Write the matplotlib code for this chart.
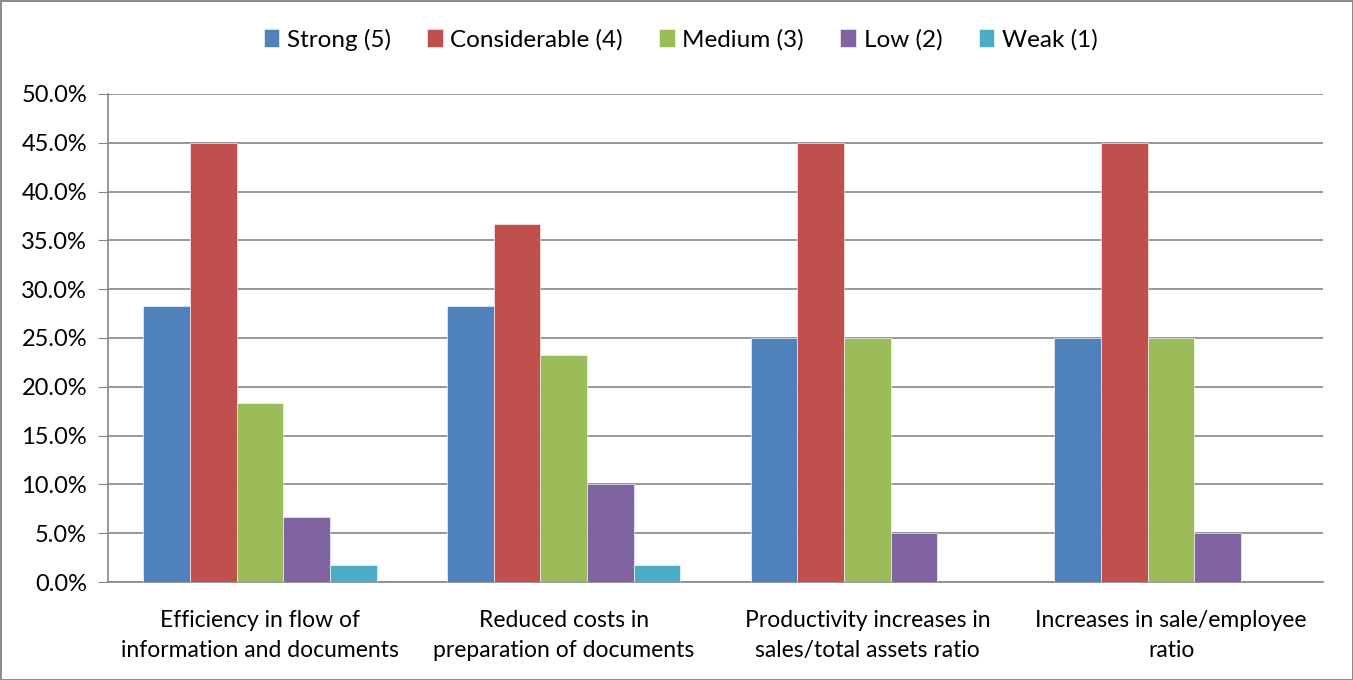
import matplotlib.pyplot as plt
import numpy as np
from matplotlib.ticker import PercentFormatter

categories = ["Efficiency in flow of\ninformation and documents",
              "Reduced costs in\npreparation of documents",
              "Productivity increases in\nsales/total assets ratio",
              "Increases in sale/employee\nratio"]
series_names = ["Strong (5)", "Considerable (4)", "Medium (3)", "Low (2)", "Weak (1)"]
strong = [28.3, 28.3, 25.0, 25.0]
considerable = [45.0, 36.7, 45.0, 45.0]
medium = [18.3, 23.3, 25.0, 25.0]
low = [6.7, 10.0, 5.0, 5.0]
weak = [1.7, 1.7, 0.0, 0.0]
colors = ["#4f81bd", "#c0504d", "#9bbb59", "#8064a2", "#4bacc6"]

plt.rcParams["font.family"] = ["Lato", "DejaVu Sans"]

fig = plt.figure(figsize=(13.53, 6.8), dpi=100)
fig.patch.set_edgecolor("#8c8c8c")
fig.patch.set_linewidth(2)
ax = fig.add_axes([0.0798, 0.1441, 0.8980, 0.7177])

x = np.arange(len(categories))
w = 0.1537
for i, (vals, name) in enumerate(zip([strong, considerable, medium, low, weak], series_names)):
    ax.bar(x + (i - 2) * w, vals, w, color=colors[i], label=name,
           edgecolor="white", linewidth=0.4, zorder=3)

ax.set_xlim(-0.5, len(categories) - 0.5)
ax.set_ylim(0, 50)
ax.set_yticks(np.arange(0, 51, 5))
ax.yaxis.set_major_formatter(PercentFormatter(decimals=1))
ax.set_xticks(x)
ax.set_xticklabels(categories, fontsize=16.5, linespacing=1.55)
ax.tick_params(axis="y", labelsize=17, length=7, color="#868686", direction="out", pad=8)
ax.tick_params(axis="x", length=0, pad=20)
ax.grid(axis="y", color="#868686", linewidth=1.2, zorder=0)
for s in ["top", "right"]:
    ax.spines[s].set_visible(False)
for s in ["left", "bottom"]:
    ax.spines[s].set_color("#868686")
    ax.spines[s].set_linewidth(1.2)

fig.legend(loc="upper center", bbox_to_anchor=(0.503, 0.99), ncol=5, frameon=False,
           fontsize=17.5, handlelength=0.65, handleheight=0.75, handletextpad=0.3,
           columnspacing=1.5)

fig.savefig("out.png", dpi=100)
